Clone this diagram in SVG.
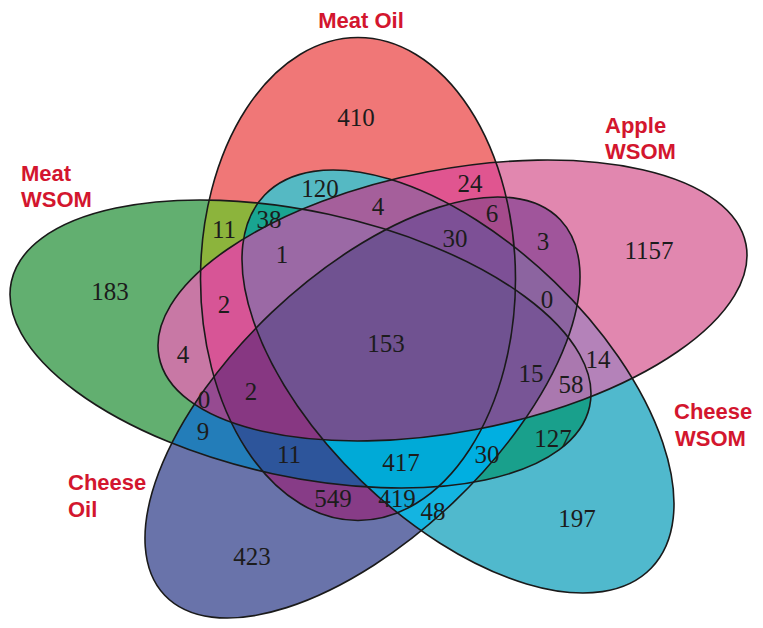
<svg xmlns="http://www.w3.org/2000/svg" width="763" height="628" viewBox="0 0 763 628">
<style>
.num{font-family:"Liberation Serif","Times New Roman",serif;font-size:25px;fill:#1c1c1c;text-anchor:middle}
.lbl{font-family:"Liberation Sans",Arial,sans-serif;font-size:22px;font-weight:bold;fill:#d3162e}
.edge{fill:none;stroke:#1a1a1a;stroke-width:1.6}
</style>
<defs>
<ellipse id="eA" cx="358" cy="279" rx="157.5" ry="241.5"/>
<ellipse id="eB" cx="452.5" cy="300.5" rx="298.8" ry="131.1" transform="rotate(-10.85 452.5 300.5)"/>
<ellipse id="eC" cx="458" cy="381.5" rx="268.6" ry="138.7" transform="rotate(43.96 458 381.5)"/>
<ellipse id="eD" cx="362.5" cy="407.5" rx="272.7" ry="131.4" transform="rotate(-43.5 362.5 407.5)"/>
<ellipse id="eE" cx="300.5" cy="344" rx="295.8" ry="132.7" transform="rotate(12.2 300.5 344)"/>
<clipPath id="cA"><use href="#eA"/></clipPath>
<clipPath id="cB"><use href="#eB"/></clipPath>
<clipPath id="cC"><use href="#eC"/></clipPath>
<clipPath id="cD"><use href="#eD"/></clipPath>
</defs>
<rect width="763" height="628" fill="#ffffff"/>
<g id="regions">
<use href="#eA" fill="#f07777"/>
<use href="#eB" fill="#e187af"/>
<use href="#eC" fill="#50b9cd"/>
<use href="#eD" fill="#6973aa"/>
<use href="#eE" fill="#62af70"/>
<g clip-path="url(#cA)"><use href="#eB" fill="#e05590"/></g>
<g clip-path="url(#cA)"><use href="#eC" fill="#55b9c3"/></g>
<g clip-path="url(#cA)"><use href="#eD" fill="#873c87"/></g>
<g clip-path="url(#cA)"><use href="#eE" fill="#8cb43c"/></g>
<g clip-path="url(#cB)"><use href="#eC" fill="#b482b9"/></g>
<g clip-path="url(#cB)"><use href="#eD" fill="#a0559b"/></g>
<g clip-path="url(#cB)"><use href="#eE" fill="#c878a5"/></g>
<g clip-path="url(#cC)"><use href="#eD" fill="#14b4e1"/></g>
<g clip-path="url(#cC)"><use href="#eE" fill="#19a08c"/></g>
<g clip-path="url(#cD)"><use href="#eE" fill="#237db9"/></g>
<g clip-path="url(#cA)"><g clip-path="url(#cB)"><use href="#eC" fill="#a55f9b"/></g></g>
<g clip-path="url(#cA)"><g clip-path="url(#cB)"><use href="#eD" fill="#a54b8c"/></g></g>
<g clip-path="url(#cA)"><g clip-path="url(#cB)"><use href="#eE" fill="#d75596"/></g></g>
<g clip-path="url(#cA)"><g clip-path="url(#cC)"><use href="#eD" fill="#0fa5d7"/></g></g>
<g clip-path="url(#cA)"><g clip-path="url(#cC)"><use href="#eE" fill="#19a591"/></g></g>
<g clip-path="url(#cA)"><g clip-path="url(#cD)"><use href="#eE" fill="#2d559b"/></g></g>
<g clip-path="url(#cB)"><g clip-path="url(#cC)"><use href="#eD" fill="#8c64a0"/></g></g>
<g clip-path="url(#cB)"><g clip-path="url(#cC)"><use href="#eE" fill="#aa78af"/></g></g>
<g clip-path="url(#cB)"><g clip-path="url(#cD)"><use href="#eE" fill="#964b91"/></g></g>
<g clip-path="url(#cC)"><g clip-path="url(#cD)"><use href="#eE" fill="#00afe1"/></g></g>
<g clip-path="url(#cA)"><g clip-path="url(#cB)"><g clip-path="url(#cC)"><use href="#eD" fill="#7d5096"/></g></g></g>
<g clip-path="url(#cA)"><g clip-path="url(#cB)"><g clip-path="url(#cC)"><use href="#eE" fill="#9b69a5"/></g></g></g>
<g clip-path="url(#cA)"><g clip-path="url(#cB)"><g clip-path="url(#cD)"><use href="#eE" fill="#873782"/></g></g></g>
<g clip-path="url(#cA)"><g clip-path="url(#cC)"><g clip-path="url(#cD)"><use href="#eE" fill="#00aad7"/></g></g></g>
<g clip-path="url(#cB)"><g clip-path="url(#cC)"><g clip-path="url(#cD)"><use href="#eE" fill="#785596"/></g></g></g>
<g clip-path="url(#cA)"><g clip-path="url(#cB)"><g clip-path="url(#cC)"><g clip-path="url(#cD)"><use href="#eE" fill="#705291"/></g></g></g></g>
</g>
<g id="meat-oil"><use href="#eA" class="edge"/><text class="lbl" x="361" y="28" text-anchor="middle">Meat Oil</text></g>
<g id="apple-wsom"><use href="#eB" class="edge"/><text class="lbl" x="605" y="133">Apple</text><text class="lbl" x="605" y="159">WSOM</text></g>
<g id="cheese-wsom"><use href="#eC" class="edge"/><text class="lbl" x="674" y="419">Cheese</text><text class="lbl" x="675" y="446">WSOM</text></g>
<g id="cheese-oil"><use href="#eD" class="edge"/><text class="lbl" x="68" y="490">Cheese</text><text class="lbl" x="68" y="517">Oil</text></g>
<g id="meat-wsom"><use href="#eE" class="edge"/><text class="lbl" x="21" y="181">Meat</text><text class="lbl" x="21" y="207">WSOM</text></g>
<g id="counts">
<text class="num" x="356" y="126">410</text>
<text class="num" x="320" y="197">120</text>
<text class="num" x="470" y="192">24</text>
<text class="num" x="224" y="238">11</text>
<text class="num" x="269" y="228">38</text>
<text class="num" x="378" y="215">4</text>
<text class="num" x="492" y="222">6</text>
<text class="num" x="455" y="247">30</text>
<text class="num" x="543" y="250">3</text>
<text class="num" x="649" y="259">1157</text>
<text class="num" x="110" y="300">183</text>
<text class="num" x="282" y="263">1</text>
<text class="num" x="547" y="308">0</text>
<text class="num" x="224" y="313">2</text>
<text class="num" x="386" y="352">153</text>
<text class="num" x="183" y="363">4</text>
<text class="num" x="531" y="382">15</text>
<text class="num" x="598" y="368">14</text>
<text class="num" x="571" y="393">58</text>
<text class="num" x="204" y="408">0</text>
<text class="num" x="251" y="400">2</text>
<text class="num" x="203" y="440">9</text>
<text class="num" x="553" y="447">127</text>
<text class="num" x="289" y="463">11</text>
<text class="num" x="401" y="471">417</text>
<text class="num" x="487" y="463">30</text>
<text class="num" x="333" y="507">549</text>
<text class="num" x="397" y="507">419</text>
<text class="num" x="433" y="520">48</text>
<text class="num" x="577" y="527">197</text>
<text class="num" x="252" y="565">423</text>
</g>
</svg>
